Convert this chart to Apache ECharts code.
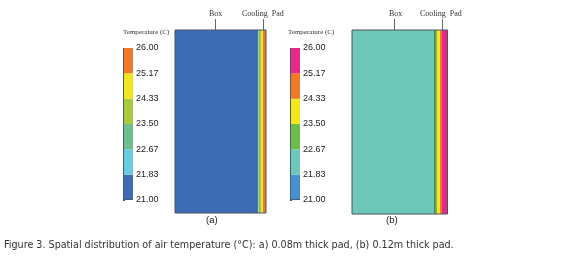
<!DOCTYPE html>
<html>
<head>
<meta charset="utf-8">
<script src="https://cdn.jsdelivr.net/npm/echarts@6/dist/echarts.min.js"></script>
<style>
  html, body { margin: 0; padding: 0; background: #fff; }
  #chart { width: 580px; height: 258px; }
</style>
</head>
<body>
<div id="chart"></div>
<script>
// temperature scale (°C)
const levels = [21.00, 21.83, 22.67, 23.50, 24.33, 25.17, 26.00]
const colorsA = ['#3e6cb4', '#69cbe0', '#6dc08e', '#a8cb3c', '#f1e51f', '#f07a29']
const colorsB = ['#4a90d0', '#6dc8b7', '#6cbd49', '#f4e71b', '#f07a25', '#e8298b']

// segments along the box, left edge -> pad (relative width units) and their temperatures
const segEdgesA = [0, 82.3, 83.7, 85.0, 86.0, 88.0, 91.0]
const segTempA = [21.4, 22.2, 23.1, 23.9, 24.7, 25.6]
const segEdgesB = [0, 82.7, 85.0, 88.0, 90.0, 95.5]
const segTempB = [22.2, 23.1, 23.9, 24.7, 25.6]

const caption = 'Figure 3. Spatial distribution of air temperature (°C): a) 0.08m thick pad, (b) 0.12m thick pad.'

function bandIndex(t) {
  for (let i = 0; i < levels.length - 1; i++) {
    if (t >= levels[i] && t < levels[i + 1]) return i
  }
  return levels.length - 2
}

function barData() {
  const d = []
  for (let i = 0; i < levels.length - 1; i++) d.push([levels[i], levels[i + 1], i])
  return d
}

function segData(edges, temps) {
  return temps.map((t, i) => [edges[i], edges[i + 1], bandIndex(t)])
}

function colorbarSeries(idx, colors) {
  return {
    type: 'custom',
    xAxisIndex: idx,
    yAxisIndex: idx,
    data: barData(),
    renderItem: (params, api) => {
      const p0 = api.coord([0, api.value(0)])
      const p1 = api.coord([1, api.value(1)])
      const children = [{
        type: 'rect',
        shape: { x: p0[0], y: p1[1], width: p1[0] - p0[0], height: p0[1] - p1[1] },
        style: { fill: colors[api.value(2)] }
      }]
      if (params.dataIndex === 0) {
        // thin outline on left and bottom edge of the bar
        const top = api.coord([0, levels[levels.length - 1]])
        children.push({
          type: 'polyline', z2: 10,
          shape: { points: [[top[0] + 0.5, top[1]], [p0[0] + 0.5, p0[1] - 0.5], [p1[0], p0[1] - 0.5]] },
          style: { fill: 'none', stroke: '#4a5a78', lineWidth: 1 }
        })
      }
      return { type: 'group', children }
    }
  }
}

function boxSeries(idx, colors, edges, temps) {
  const last = edges[edges.length - 1]
  return {
    type: 'custom',
    xAxisIndex: idx,
    yAxisIndex: idx,
    data: segData(edges, temps),
    renderItem: (params, api) => {
      const p0 = api.coord([api.value(0), 0])
      const p1 = api.coord([api.value(1), 1])
      const children = [{
        type: 'rect',
        shape: { x: p0[0], y: p1[1], width: p1[0] - p0[0], height: p0[1] - p1[1] },
        style: { fill: colors[api.value(2)] }
      }]
      if (params.dataIndex === 0) {
        const q0 = api.coord([0, 0])
        const q1 = api.coord([last, 1])
        children.push({
          type: 'rect', z2: 10,
          shape: { x: q0[0], y: q1[1], width: q1[0] - q0[0], height: q0[1] - q1[1] },
          style: { fill: 'none', stroke: '#4a5560', lineWidth: 1 }
        })
        children.push({
          type: 'line', z2: 10,
          shape: { x1: p1[0], y1: p1[1], x2: p1[0], y2: p0[1] },
          style: { stroke: '#3a4a66', lineWidth: 0.8 }
        })
      }
      return { type: 'group', children }
    }
  }
}

const chart = echarts.init(document.getElementById('chart'))

const hiddenX = { type: 'value', min: 0, max: 1, show: false }
const cbarY = {
  type: 'value', min: levels[0], max: levels[levels.length - 1], position: 'right',
  axisLine: { show: false },
  splitLine: { show: false },
  axisTick: { show: true, length: 2, customValues: levels, lineStyle: { color: '#555' } },
  axisLabel: {
    customValues: levels, margin: 3, color: '#222', fontSize: 9,
    fontFamily: 'Liberation Sans', formatter: v => v.toFixed(2)
  }
}
const boxY = { type: 'value', min: 0, max: 1, show: false }

const serifText = { fontFamily: 'Liberation Serif', fontSize: 8, fill: '#333' }

chart.setOption({
  animation: false,
  grid: [
    { left: 123, top: 48, width: 10, height: 152 },
    { left: 175, top: 30, width: 91, height: 183 },
    { left: 290, top: 48, width: 10, height: 152 },
    { left: 352, top: 30, width: 96, height: 184 }
  ],
  xAxis: [
    { ...hiddenX, gridIndex: 0 },
    { ...hiddenX, gridIndex: 1, max: segEdgesA[segEdgesA.length - 1] },
    { ...hiddenX, gridIndex: 2 },
    { ...hiddenX, gridIndex: 3, max: segEdgesB[segEdgesB.length - 1] + 0.5 }
  ],
  yAxis: [
    { ...cbarY, gridIndex: 0 },
    { ...boxY, gridIndex: 1 },
    { ...cbarY, gridIndex: 2 },
    { ...boxY, gridIndex: 3 }
  ],
  series: [
    colorbarSeries(0, colorsA),
    boxSeries(1, colorsA, segEdgesA, segTempA),
    colorbarSeries(2, colorsB),
    boxSeries(3, colorsB, segEdgesB, segTempB)
  ],
  graphic: [
    { type: 'text', left: 123, top: 29, style: { ...serifText, text: 'Temperature (C)', fontSize: 7 } },
    { type: 'text', left: 288, top: 29, style: { ...serifText, text: 'Temperature (C)', fontSize: 7 } },
    { type: 'text', left: 209, top: 10, style: { ...serifText, text: 'Box' } },
    { type: 'line', shape: { x1: 215.5, y1: 19, x2: 215.5, y2: 30 }, style: { stroke: '#666', lineWidth: 1 } },
    { type: 'text', left: 242, top: 10, style: { ...serifText, text: 'Cooling  Pad' } },
    { type: 'line', shape: { x1: 263.5, y1: 19, x2: 263.5, y2: 30 }, style: { stroke: '#666', lineWidth: 1 } },
    { type: 'text', left: 389, top: 10, style: { ...serifText, text: 'Box' } },
    { type: 'line', shape: { x1: 394.5, y1: 19, x2: 394.5, y2: 30 }, style: { stroke: '#666', lineWidth: 1 } },
    { type: 'text', left: 420, top: 10, style: { ...serifText, text: 'Cooling  Pad' } },
    { type: 'line', shape: { x1: 442.5, y1: 19, x2: 442.5, y2: 30 }, style: { stroke: '#666', lineWidth: 1 } },
    { type: 'text', left: 206, top: 215, style: { text: '(a)', fontFamily: 'Liberation Sans', fontSize: 9.5, fill: '#222' } },
    { type: 'text', left: 386, top: 215, style: { text: '(b)', fontFamily: 'Liberation Sans', fontSize: 9.5, fill: '#222' } },
    { type: 'text', left: 4, top: 240, style: { text: caption, fontFamily: 'DejaVu Sans', fontSize: 9.6, fill: '#333' } }
  ]
})
</script>
</body>
</html>
